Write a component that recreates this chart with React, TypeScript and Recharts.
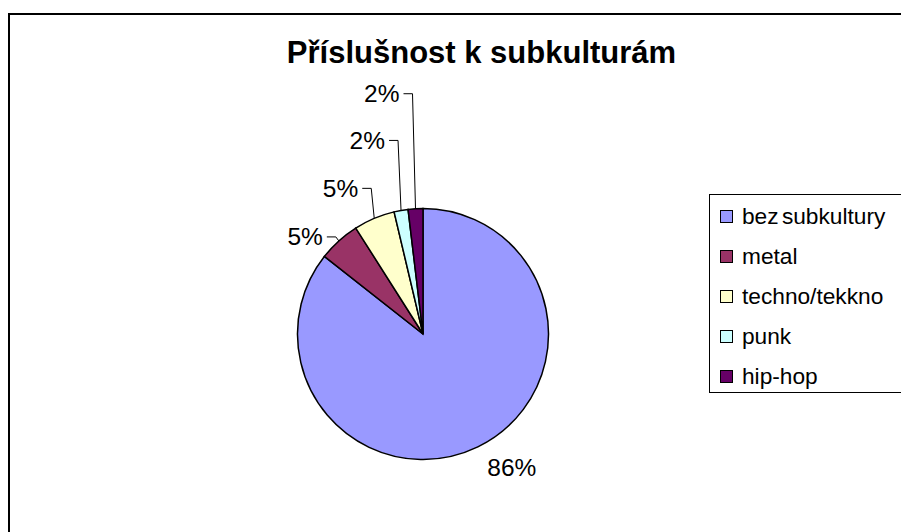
import React from 'react';
import { PieChart, Pie, Cell, Legend } from 'recharts';

const categories = ['bez subkultury', 'metal', 'techno/tekkno', 'punk', 'hip-hop'];
const shares = [85.6, 5.4, 5.3, 1.8, 1.9];
const colors = ['#9999FF', '#993366', '#FFFFCC', '#CCFFFF', '#660066'];

// where Excel put each data label: big slice is free-floating, the rest hang on elbow leaders
const labelPlacement = [
  { dx: 34, dy: 21, leader: false, rise: 0 },
  { dx: 0, dy: 0, leader: true, rise: 4 },
  { dx: 0, dy: 0, leader: true, rise: 30 },
  { dx: 0, dy: 0, leader: true, rise: 70 },
  { dx: 0, dy: 0, leader: true, rise: 115 },
];

const FONT = '"Liberation Sans", Arial, sans-serif';
const RAD = Math.PI / 180;
const total = shares.reduce((a, b) => a + b, 0);

const chartData = categories.map((name, i) => ({ name, value: shares[i] }));

const renderLabel = (props: any) => {
  const { cx, cy, midAngle, outerRadius, index } = props;
  const pct = Math.round((shares[index] / total) * 100);
  const ex = cx + outerRadius * Math.cos(-midAngle * RAD);
  const ey = cy + outerRadius * Math.sin(-midAngle * RAD);
  const place = labelPlacement[index];

  if (!place.leader) {
    return (
      <text x={ex + place.dx} y={ey + place.dy} textAnchor="middle" dominantBaseline="central"
        fontFamily={FONT} fontSize={24.5} fill="#000">
        {pct}%
      </text>
    );
  }

  const elbowX = ex - 3;
  const elbowY = ey - place.rise;
  return (
    <g>
      <polyline points={`${elbowX - 9},${elbowY} ${elbowX},${elbowY} ${ex},${ey}`}
        fill="none" stroke="#000" strokeWidth={1} />
      <text x={elbowX - 13} y={elbowY} textAnchor="end" dominantBaseline="central"
        fontFamily={FONT} fontSize={24.5} fill="#000">
        {pct}%
      </text>
    </g>
  );
};

// legend keeps the series order (recharts would sort it by name);
// the box runs off the right edge of the picture, so no right border
const renderLegend = () => (
  <div style={{
    width: 240, height: 199, borderLeft: '1px solid #000', borderTop: '1px solid #000',
    borderBottom: '1px solid #000', boxSizing: 'border-box', background: '#fff', paddingTop: 1,
  }}>
    {categories.map((c, i) => (
      <div key={c} style={{ display: 'flex', alignItems: 'center', height: 40, paddingLeft: 10 }}>
        <span style={{
          width: 13, height: 13, background: colors[i], border: '1.5px solid #000',
          boxSizing: 'border-box', marginRight: 9, flex: 'none',
        }} />
        <span style={{ fontFamily: FONT, fontSize: 22.7, color: '#000', whiteSpace: 'nowrap', wordSpacing: -3 }}>{c}</span>
      </div>
    ))}
  </div>
);

export default function App() {
  return (
    <div style={{ position: 'absolute', left: 0, top: 0, width: 901, height: 532, overflow: 'hidden', background: '#fff' }}>
      <div style={{
        position: 'absolute', left: 8, top: 13, width: 1000, height: 1000,
        borderLeft: '2px solid #000', borderTop: '2px solid #000',
      }} />
      <div style={{
        position: 'absolute', left: 0, top: 37, width: 963, textAlign: 'center',
        fontFamily: FONT, fontWeight: 'bold', fontSize: 31, lineHeight: '31px', color: '#000',
      }}>
        Příslušnost k subkulturám
      </div>
      <div style={{ position: 'absolute', left: 0, top: 0 }}>
        <PieChart width={901} height={532} margin={{ top: 0, right: 0, bottom: 0, left: 0 }}>
          <Pie
            data={chartData}
            dataKey="value"
            nameKey="name"
            cx={423}
            cy={334}
            outerRadius={125.5}
            startAngle={90}
            endAngle={-270}
            stroke="#000"
            strokeWidth={1.5}
            label={renderLabel}
            labelLine={false}
            isAnimationActive={false}
          >
            {chartData.map((d, i) => (
              <Cell key={d.name} fill={colors[i]} />
            ))}
          </Pie>
          <Legend
            layout="vertical"
            content={renderLegend}
            wrapperStyle={{ position: 'absolute', left: 709, top: 194, width: 240, height: 199 }}
          />
        </PieChart>
      </div>
    </div>
  );
}
